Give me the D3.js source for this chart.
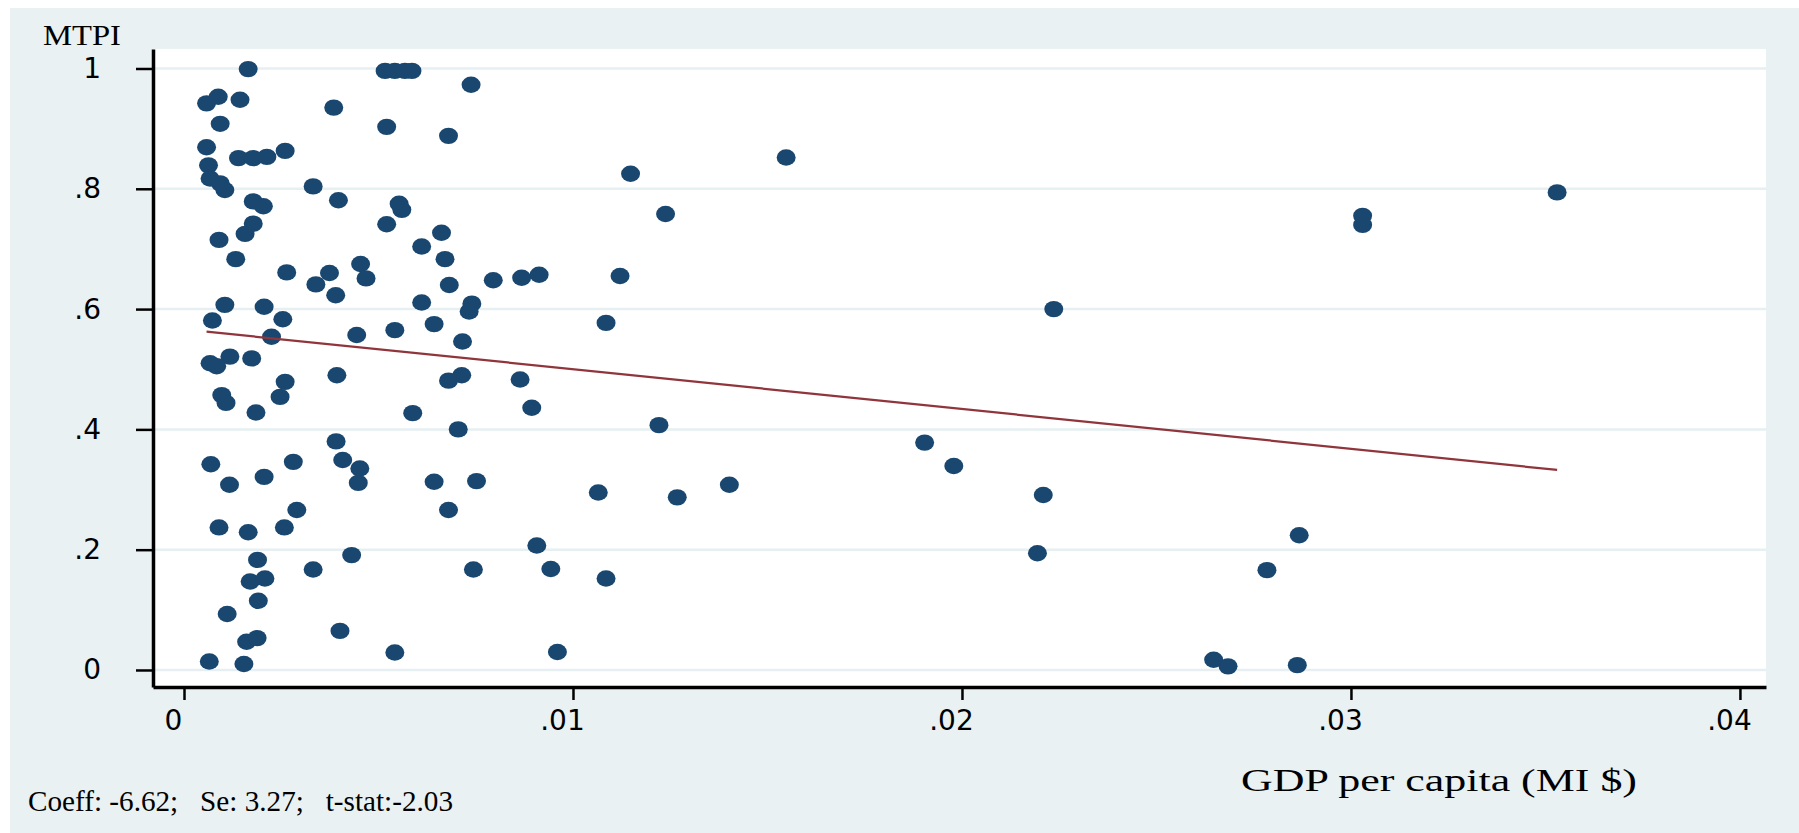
<!DOCTYPE html>
<html>
<head>
<meta charset="utf-8">
<script src="https://cdn.jsdelivr.net/npm/d3@7/dist/d3.min.js"></script>
<style>
  html, body { margin: 0; padding: 0; background: #ffffff; }
  svg { display: block; }
  .tick text { font-family: 'DejaVu Sans', sans-serif; font-size: 28px; fill: #000; }
  .label { font-family: 'Liberation Serif', serif; fill: #000; white-space: pre; }
</style>
</head>
<body>
<svg id="chart" width="1799" height="833"></svg>
<script>
// GDP per capita (MI $) for each country
const gdpPerCapita = [
  0.00165, 0.00517, 0.00542, 0.00568, 0.00586, 0.00738, 0.00058, 0.00088, 0.00144, 0.00385,
  0.00093, 0.00521, 0.00680, 0.00058, 0.00140, 0.00178, 0.00213, 0.00260, 0.00063, 0.00067,
  0.00093, 0.00105, 0.00332, 0.00397, 0.00553, 0.00560, 0.00178, 0.00204, 0.00521, 0.00662,
  0.00178, 0.00157, 0.00090, 0.00611, 0.00671, 0.00133, 0.00264, 0.00374, 0.00454, 0.00468,
  0.00339, 0.00390, 0.00682, 0.00795, 0.00105, 0.00206, 0.00611, 0.00740, 0.00733, 0.00073,
  0.00254, 0.00225, 0.00444, 0.00542, 0.00643, 0.00716, 0.00067, 0.00118, 0.00174, 0.00084,
  0.00393, 0.00680, 0.00714, 0.00260, 0.00247, 0.00097, 0.00108, 0.00185, 0.00588, 0.00705,
  0.00391, 0.00069, 0.00281, 0.00408, 0.00452, 0.00117, 0.00206, 0.00448, 0.00643, 0.00752,
  0.00290, 0.00680, 0.00090, 0.00165, 0.00258, 0.00431, 0.00189, 0.00332, 0.00744, 0.00170,
  0.00208, 0.00191, 0.00111, 0.00401, 0.00161, 0.00188, 0.00542, 0.00065, 0.00154, 0.01548,
  0.01148, 0.01238, 0.00868, 0.00913, 0.01121, 0.01085, 0.00864, 0.00894, 0.01221, 0.01065,
  0.01268, 0.01402, 0.00907, 0.00943, 0.01085, 0.00960, 0.02236, 0.01904, 0.01979, 0.02209,
  0.02194, 0.03030, 0.03030, 0.03530, 0.02867, 0.02784, 0.02647, 0.02684, 0.02862
];

// MTPI for the same countries
const mtpi = [
  0.999, 0.996, 0.996, 0.996, 0.996, 0.973, 0.942, 0.953, 0.948, 0.935,
  0.908, 0.903, 0.888, 0.869, 0.851, 0.851, 0.853, 0.863, 0.839, 0.817,
  0.809, 0.798, 0.804, 0.781, 0.775, 0.765, 0.779, 0.771, 0.741, 0.727,
  0.742, 0.725, 0.715, 0.704, 0.683, 0.683, 0.661, 0.660, 0.675, 0.651,
  0.641, 0.623, 0.640, 0.648, 0.607, 0.604, 0.611, 0.609, 0.596, 0.581,
  0.583, 0.554, 0.557, 0.565, 0.575, 0.546, 0.510, 0.521, 0.518, 0.505,
  0.490, 0.481, 0.490, 0.479, 0.454, 0.457, 0.444, 0.428, 0.427, 0.400,
  0.380, 0.342, 0.346, 0.349, 0.335, 0.308, 0.321, 0.311, 0.313, 0.314,
  0.266, 0.266, 0.237, 0.229, 0.237, 0.191, 0.183, 0.167, 0.167, 0.147,
  0.152, 0.115, 0.093, 0.065, 0.047, 0.053, 0.029, 0.014, 0.010, 0.852,
  0.825, 0.758, 0.652, 0.657, 0.655, 0.577, 0.483, 0.436, 0.407, 0.295,
  0.287, 0.308, 0.207, 0.168, 0.152, 0.030, 0.600, 0.378, 0.339, 0.291,
  0.194, 0.755, 0.740, 0.794, 0.224, 0.166, 0.017, 0.006, 0.008
];

// Fitted line (intercept, slope as printed in the note)
const fitIntercept = 0.5663;
const fitSlope = -6.62;

const xTicks = [0, 0.01, 0.02, 0.03, 0.04];
const xTickLabels = ['0', '.01', '.02', '.03', '.04'];
const yTicks = [0, 0.2, 0.4, 0.6, 0.8, 1];
const yTickLabels = ['0', '.2', '.4', '.6', '.8', '1'];

const yTitle = 'MTPI';
const xTitle = 'GDP per capita (MI $)';
const note = 'Coeff: -6.62;   Se: 3.27;   t-stat:-2.03';

const width = 1799;
const height = 833;
const margin = { left: 153, right: 33, top: 49, bottom: 146 };
const drawWidth = width - margin.left - margin.right;
const drawHeight = height - margin.top - margin.bottom;

const svg = d3.select('#chart');

// Graph region background (Stata s2color style)
svg.append('rect')
  .attr('x', 10).attr('y', 8)
  .attr('width', width - 10).attr('height', height - 8)
  .attr('fill', '#e9f1f3');

// Plot region
svg.append('rect')
  .attr('x', margin.left).attr('y', margin.top)
  .attr('width', drawWidth).attr('height', drawHeight)
  .attr('fill', '#ffffff');

const xScale = d3.scaleLinear()
  .domain([-0.000797, 0.04067])
  .range([0, drawWidth]);
const yScale = d3.scaleLinear()
  .domain([-0.0283, 1.0324])
  .range([drawHeight, 0]);

const chartArea = svg.append('g')
  .attr('transform', `translate(${margin.left},${margin.top})`);

// Horizontal grid lines
chartArea.selectAll('line.grid')
  .data(yTicks)
  .enter()
  .append('line')
  .attr('class', 'grid')
  .attr('x1', 0).attr('x2', drawWidth)
  .attr('y1', d => yScale(d)).attr('y2', d => yScale(d))
  .attr('stroke', '#e6eff1')
  .attr('stroke-width', 2.5);

// Points
const points = gdpPerCapita.map((x, i) => ({ x: x, y: mtpi[i] }));
chartArea.selectAll('ellipse')
  .data(points)
  .enter()
  .append('ellipse')
  .attr('cx', d => xScale(d.x))
  .attr('cy', d => yScale(d.y))
  .attr('rx', 9.5)
  .attr('ry', 8.2)
  .attr('fill', '#1a476f');

// Fitted line over the range of the data
const xExtent = d3.extent(gdpPerCapita);
chartArea.append('path')
  .datum(xExtent.map(x => ({ x: x, y: fitIntercept + fitSlope * x })))
  .attr('d', d3.line().x(d => xScale(d.x)).y(d => yScale(d.y)))
  .attr('fill', 'none')
  .attr('stroke', '#90353b')
  .attr('stroke-width', 2.2);

// Axes
const yAxis = d3.axisLeft(yScale)
  .tickValues(yTicks)
  .tickFormat((d, i) => yTickLabels[i])
  .tickSize(17)
  .tickSizeOuter(0)
  .tickPadding(35);
const xAxis = d3.axisBottom(xScale)
  .tickValues(xTicks)
  .tickFormat((d, i) => xTickLabels[i])
  .tickSize(13)
  .tickSizeOuter(0)
  .tickPadding(10);

const yAxisG = svg.append('g')
  .attr('transform', `translate(${margin.left},${margin.top})`)
  .call(yAxis);
const xAxisG = svg.append('g')
  .attr('transform', `translate(${margin.left},${margin.top + drawHeight})`)
  .call(xAxis);

[yAxisG, xAxisG].forEach(g => {
  g.select('.domain').attr('stroke', '#000').attr('stroke-width', 3.5);
  g.selectAll('.tick line').attr('stroke', '#000').attr('stroke-width', 2.5);
  g.attr('font-family', null).attr('font-size', null);
});
xAxisG.selectAll('.tick text').attr('dx', -11);

// Titles and note
svg.append('text')
  .attr('class', 'label')
  .attr('x', 43).attr('y', 45)
  .attr('font-size', 29)
  .attr('textLength', 78)
  .attr('lengthAdjust', 'spacingAndGlyphs')
  .text(yTitle);

svg.append('text')
  .attr('class', 'label')
  .attr('x', 1241).attr('y', 791)
  .attr('font-size', 31)
  .attr('textLength', 396)
  .attr('lengthAdjust', 'spacingAndGlyphs')
  .text(xTitle);

svg.append('text')
  .attr('class', 'label')
  .attr('x', 28).attr('y', 811)
  .attr('font-size', 30)
  .attr('textLength', 425)
  .attr('lengthAdjust', 'spacingAndGlyphs')
  .text(note);
</script>
</body>
</html>
